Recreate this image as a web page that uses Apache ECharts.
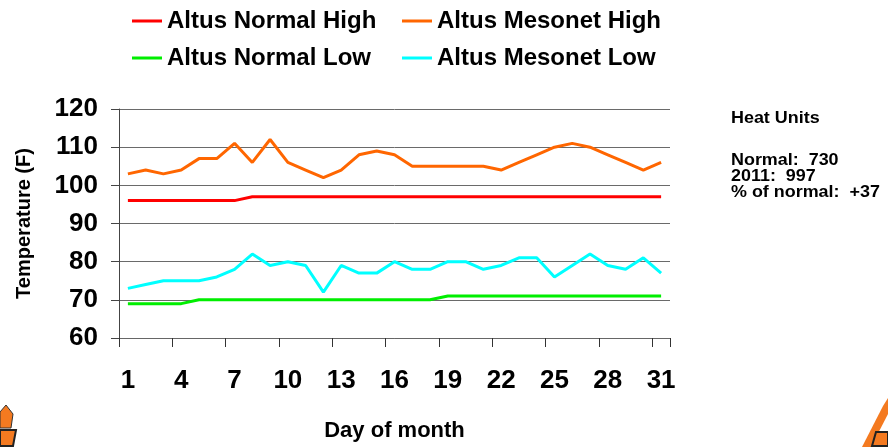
<!DOCTYPE html>
<html>
<head>
<meta charset="utf-8">
<script src="https://cdn.jsdelivr.net/npm/echarts@6/dist/echarts.min.js"></script>
<style>
html,body{margin:0;padding:0;background:#fff;}
#chart{width:888px;height:447px;}
</style>
</head>
<body>
<div id="chart"></div>
<script>
var days = ['1','2','3','4','5','6','7','8','9','10','11','12','13','14','15','16','17','18','19','20','21','22','23','24','25','26','27','28','29','30','31'];
var normalHigh = [96,96,96,96,96,96,96,97,97,97,97,97,97,97,97,97,97,97,97,97,97,97,97,97,97,97,97,97,97,97,97];
var mesonetHigh = [103,104,103,104,107,107,111,106,112,106,104,102,104,108,109,108,105,105,105,105,105,104,106,108,110,111,110,108,106,104,106];
var normalLow = [69,69,69,69,70,70,70,70,70,70,70,70,70,70,70,70,70,70,71,71,71,71,71,71,71,71,71,71,71,71,71];
var mesonetLow = [73,74,75,75,75,76,78,82,79,80,79,72,79,77,77,80,78,78,80,80,78,79,81,81,76,79,82,79,78,81,77];
var seriesNames = ['Altus Normal High','Altus Mesonet High','Altus Normal Low','Altus Mesonet Low'];
var seriesColors = ['#ff0000','#ff6600','#00ee00','#00ffff'];
var yMin = 60, yMax = 120, yStep = 10;
var sideTexts = ['Heat Units','Normal:  730','2011:  997','% of normal:  +37'];

var FONT = '"Liberation Sans", Arial, sans-serif';
var chart = echarts.init(document.getElementById('chart'), null, {renderer:'canvas'});

function legendAt(name, left, top){
  return {
    data:[name], left:left, top:top, padding:0, orient:'horizontal',
    icon:'rect', itemWidth:30, itemHeight:3, itemGap:0,
    textStyle:{fontFamily:FONT, fontWeight:'bold', fontSize:24, color:'#000', lineHeight:28}
  };
}

var values = [normalHigh, mesonetHigh, normalLow, mesonetLow];
var series = seriesNames.map(function(n,i){
  return {name:n, type:'line', data:values[i], symbol:'none', showSymbol:false,
    lineStyle:{width:3, color:seriesColors[i]}, itemStyle:{color:seriesColors[i]},
    emphasis:{disabled:true}, animation:false, z: 3};
});

var sideY = [119, 161, 177, 193];
var graphics = sideTexts.map(function(t,i){
  return {type:'text', x:731, y:sideY[i], scaleX:1.12, originX:0, originY:0,
    style:{text:t, fontFamily:FONT, fontWeight:'bold', fontSize:16, fill:'#000', align:'left', verticalAlign:'middle'}};
});
// partial logos in corners
graphics.push({type:'polygon', shape:{points:[[0,412],[6,405],[13,414],[11,428],[0,428]]}, style:{fill:'#f47a20', stroke:'#333', lineWidth:1}});
graphics.push({type:'polygon', shape:{points:[[0,430],[16,430],[13,446],[0,446]]}, style:{fill:'#f47a20', stroke:'#222', lineWidth:2}});
graphics.push({type:'polygon', shape:{points:[[883,406],[888,398],[888,414],[871,447],[862,447]]}, style:{fill:'#f47a20'}});
graphics.push({type:'polygon', shape:{points:[[876,432],[888,432],[888,446],[872,446]]}, style:{fill:'#f47a20', stroke:'#222', lineWidth:2}});

var option = {
  animation:false,
  backgroundColor:'#fff',
  legend:[
    legendAt(seriesNames[0],132,7),
    legendAt(seriesNames[1],402,7),
    legendAt(seriesNames[2],132,44),
    legendAt(seriesNames[3],402,44)
  ],
  grid:{left:119, right:218, top:109, bottom:103, containLabel:false},
  xAxis:{
    type:'category', data:days, boundaryGap:true,
    name:'Day of month', nameLocation:'middle', nameGap:82, nameMoveOverlap:false,
    nameTextStyle:{fontFamily:FONT, fontWeight:'bold', fontSize:22, color:'#000'},
    axisLine:{show:true, lineStyle:{color:'#666', width:1}},
    axisTick:{show:true, interval:2, alignWithLabel:false, length:9, lineStyle:{color:'#333', width:1}},
    axisLabel:{interval:2, margin:30, fontFamily:FONT, fontWeight:'bold', fontSize:26, color:'#000'},
    splitLine:{show:false}
  },
  yAxis:{
    type:'value', min:yMin, max:yMax, interval:yStep,
    name:'Temperature (F)', nameLocation:'middle', nameGap:85, nameRotate:90,
    nameTextStyle:{fontFamily:FONT, fontWeight:'bold', fontSize:20, color:'#000'},
    axisLine:{show:true, lineStyle:{color:'#444', width:1}},
    axisTick:{show:true, length:8, lineStyle:{color:'#444', width:1}},
    axisLabel:{margin:21, fontFamily:FONT, fontWeight:'bold', fontSize:26, color:'#000'},
    splitLine:{show:true, lineStyle:{color:'#6a6a6a', width:1}}
  },
  series:series,
  graphic:graphics
};
chart.setOption(option);
</script>
</body>
</html>
